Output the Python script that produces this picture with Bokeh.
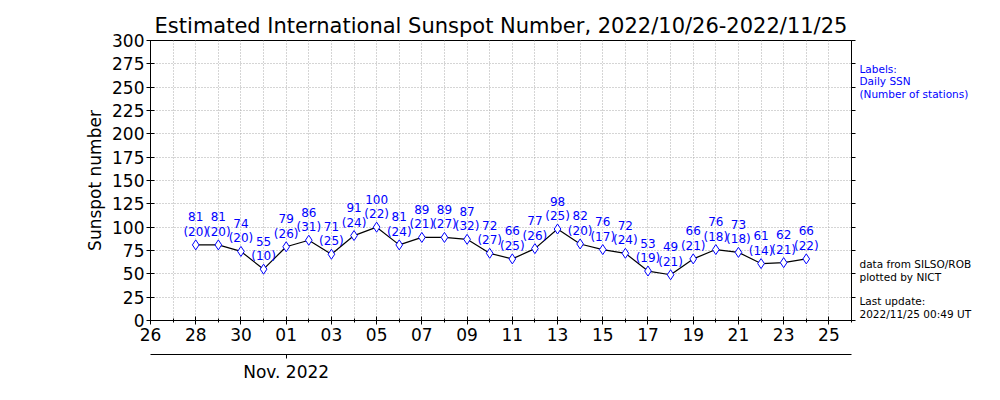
import pandas as pd
from bokeh.plotting import figure
from bokeh.layouts import row
from bokeh.models import (Range1d, FixedTicker, DatetimeTickFormatter, DatetimeAxis,
                          LinearAxis, ColumnDataSource, CustomJSTickFormatter)
from bokeh.core.properties import value
from bokeh.embed import file_html
from bokeh.resources import INLINE

# ---- data ----
dates = ["2022-10-28", "2022-10-29", "2022-10-30", "2022-10-31",
         "2022-11-01", "2022-11-02", "2022-11-03", "2022-11-04", "2022-11-05",
         "2022-11-06", "2022-11-07", "2022-11-08", "2022-11-09", "2022-11-10",
         "2022-11-11", "2022-11-12", "2022-11-13", "2022-11-14", "2022-11-15",
         "2022-11-16", "2022-11-17", "2022-11-18", "2022-11-19", "2022-11-20",
         "2022-11-21", "2022-11-22", "2022-11-23", "2022-11-24"]
ssn = [81, 81, 74, 55, 79, 86, 71, 91, 100, 81, 89, 89, 87, 72,
       66, 77, 98, 82, 76, 72, 53, 49, 66, 76, 73, 61, 62, 66]
stations = [20, 20, 20, 10, 26, 31, 25, 24, 22, 24, 21, 27, 32, 27,
            25, 26, 25, 20, 17, 24, 19, 21, 21, 18, 18, 14, 21, 22]
x_start = "2022-10-26"
x_end = "2022-11-26"
major_tick_dates = ["2022-10-26", "2022-10-28", "2022-10-30", "2022-11-01",
                    "2022-11-03", "2022-11-05", "2022-11-07", "2022-11-09",
                    "2022-11-11", "2022-11-13", "2022-11-15", "2022-11-17",
                    "2022-11-19", "2022-11-21", "2022-11-23", "2022-11-25"]
month_tick_date = "2022-11-01"
y_ticks = [0, 25, 50, 75, 100, 125, 150, 175, 200, 225, 250, 275, 300]
title_text = "Estimated International Sunspot Number, 2022/10/26-2022/11/25"
notes_blue = ["Labels:", "Daily SSN", "(Number of stations)"]
notes_black = ["data from SILSO/ROB", "plotted by NICT", "Last update:",
               "2022/11/25 00:49 UT"]

FONT = "DejaVu Sans"


def ms(d):
    return pd.Timestamp(d).value / 1e6


minor_ms = [ms(d) for d in pd.date_range(x_start, x_end, freq="D")]
major_ms = [ms(d) for d in major_tick_dates]

src = ColumnDataSource(dict(
    x=pd.to_datetime(dates),
    ssn=ssn,
    ssn_lbl=[str(v) for v in ssn],
    st_lbl=["(%d)" % v for v in stations],
))

p = figure(x_axis_type="datetime",
           x_range=Range1d(ms(x_start), ms(x_end)),
           y_range=Range1d(0, 300),
           frame_width=701, frame_height=280,
           min_border_left=150, min_border_right=7,
           min_border_top=40, min_border_bottom=80,
           output_backend="svg", toolbar_location=None,
           background_fill_color="white", border_fill_color="white")

p.title.text = title_text
p.title.text_font = FONT
p.title.text_font_size = "21px"
p.title.text_font_style = "normal"
p.title.text_color = "black"
p.title.align = "center"
p.title.standoff = 5

p.outline_line_color = "black"
p.outline_line_width = 1

# grids
p.xgrid.ticker = FixedTicker(ticks=minor_ms)
p.ygrid.ticker = FixedTicker(ticks=y_ticks)
for g in (p.xgrid, p.ygrid):
    g.grid_line_color = "#aaaaaa"
    g.grid_line_dash = "1 2"
    g.grid_line_width = 1

# x axis
xa = p.xaxis[0]
xa.ticker = FixedTicker(ticks=major_ms, minor_ticks=minor_ms)
fmt_kw = {k: "%d" for k in ["microseconds", "milliseconds", "seconds", "minsec",
                             "minutes", "hourmin", "hours", "days", "months", "years"]}
xa.formatter = DatetimeTickFormatter(**fmt_kw)
xa.major_label_text_font = FONT
xa.major_label_text_font_size = "17px"
xa.major_label_text_color = "black"
xa.major_label_standoff = 3
xa.major_tick_in = 4
xa.major_tick_out = 4
xa.minor_tick_in = 2
xa.minor_tick_out = 2
xa.axis_line_color = "black"
xa.major_tick_line_color = "black"
xa.minor_tick_line_color = "black"
# spacer so the month axis sits lower
xa.axis_label = " "
xa.axis_label_text_font_size = "6px"
xa.axis_label_standoff = 2

# y axis
ya = p.yaxis[0]
ya.ticker = FixedTicker(ticks=y_ticks)
ya.axis_label = "Sunspot number"
ya.axis_label_text_font = FONT
ya.axis_label_text_font_size = "17px"
ya.axis_label_text_font_style = "normal"
ya.axis_label_text_color = "black"
ya.axis_label_standoff = 4
ya.major_label_text_font = FONT
ya.major_label_text_font_size = "17px"
ya.major_label_text_color = "black"
ya.major_label_standoff = 2
ya.major_tick_in = 4
ya.major_tick_out = 4
ya.minor_tick_line_color = None
ya.axis_line_color = "black"
ya.major_tick_line_color = "black"

# right axis
ra = LinearAxis(ticker=FixedTicker(ticks=y_ticks),
                formatter=CustomJSTickFormatter(code="return ''"))
ra.major_tick_in = 0
ra.major_tick_out = 4
ra.major_label_standoff = 0
ra.minor_tick_line_color = None
ra.axis_line_color = "black"
ra.major_tick_line_color = "black"
p.add_layout(ra, "right")

# month axis
fmt2 = {k: "%b. %Y" for k in fmt_kw}
ma = DatetimeAxis(ticker=FixedTicker(ticks=[ms(month_tick_date)], minor_ticks=[]),
                  formatter=DatetimeTickFormatter(**fmt2))
ma.major_tick_in = 0
ma.major_tick_out = 4
ma.minor_tick_line_color = None
ma.major_label_text_font = FONT
ma.major_label_text_font_size = "17px"
ma.major_label_text_color = "black"
ma.major_label_standoff = 3
ma.axis_line_color = "black"
ma.major_tick_line_color = "black"
p.add_layout(ma, "below")

# data
p.line("x", "ssn", source=src, line_color="black", line_width=1.2)
p.scatter("x", "ssn", source=src, marker="diamond", size=10,
          line_color="blue", fill_color="white", line_width=1)
p.text("x", "ssn", text="st_lbl", source=src, y_offset=-13,
       text_align="center", text_baseline="middle", text_color="blue",
       text_font=value(FONT), text_font_size="12px")
p.text("x", "ssn", text="ssn_lbl", source=src, y_offset=-28,
       text_align="center", text_baseline="middle", text_color="blue",
       text_font=value(FONT), text_font_size="12px")

# side panel with notes; its frame is aligned with the main frame (y 0..300)
p2 = figure(width=143, height=400, x_range=Range1d(0, 143), y_range=Range1d(0, 300),
            min_border=0, x_axis_type=None, y_axis_type=None,
            output_backend="svg", toolbar_location=None,
            background_fill_color="white", border_fill_color="white")
p2.outline_line_color = None
p2.grid.visible = False
p2.text(x=[1] * len(notes_blue), y=[270, 256.5, 243], text=notes_blue,
        text_baseline="middle", text_align="left", text_color="blue",
        text_font=value(FONT), text_font_size="10.5px")
p2.text(x=[1] * len(notes_black), y=[61, 46.5, 20.5, 6.5], text=notes_black,
        text_baseline="middle", text_align="left", text_color="black",
        text_font=value(FONT), text_font_size="10.5px")

layout = row(p, p2, spacing=0)
open("out.html", "w").write(file_html(layout, INLINE))
